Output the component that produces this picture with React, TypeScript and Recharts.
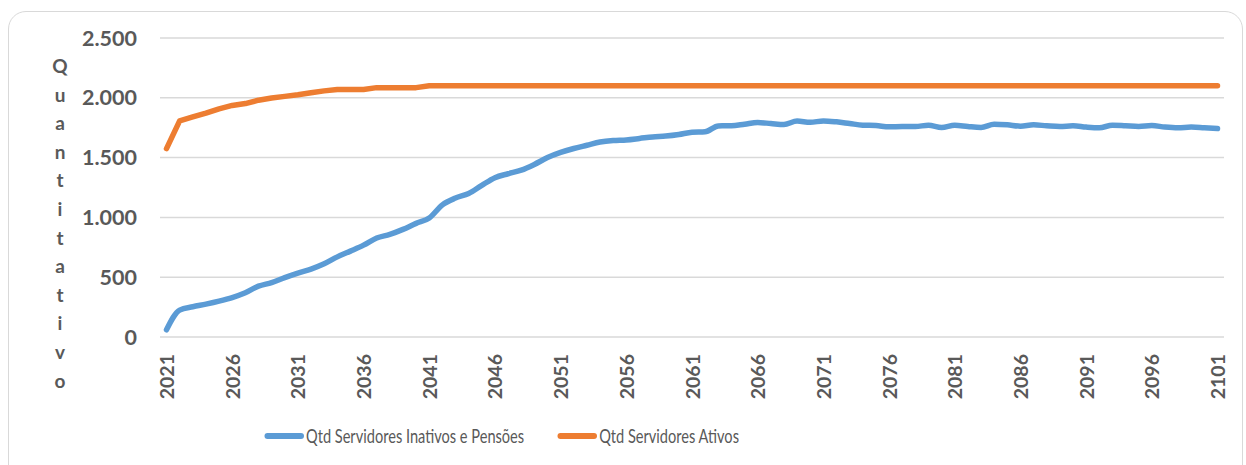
import { LineChart, Line, XAxis, YAxis, CartesianGrid, Legend } from 'recharts'

const years = Array.from({ length: 81 }, (_, i) => String(2021 + i))

const inativos = [
  60, 225, 253, 275, 300, 330, 370, 425, 455, 497,
  535, 568, 612, 670, 718, 768, 828, 858, 900, 950,
  995, 1105, 1162, 1200, 1268, 1332, 1365, 1395, 1443, 1500,
  1543, 1576, 1603, 1630, 1643, 1648, 1660, 1673, 1680, 1693,
  1712, 1716, 1765, 1766, 1779, 1793, 1785, 1777, 1805, 1795,
  1807, 1799, 1785, 1771, 1768, 1757, 1760, 1760, 1771, 1752,
  1771, 1760, 1752, 1779, 1774, 1763, 1774, 1766, 1760, 1766,
  1755, 1749, 1771, 1766, 1760, 1768, 1755, 1749, 1755, 1749,
  1743,
]

const ativos = [
  1575, 1807, 1840, 1872, 1908, 1936, 1952, 1980, 1998, 2012,
  2025, 2042, 2058, 2070, 2070, 2070, 2085, 2085, 2085, 2085,
  2100, 2100, 2100, 2100, 2100, 2100, 2100, 2100, 2100, 2100,
  2100, 2100, 2100, 2100, 2100, 2100, 2100, 2100, 2100, 2100,
  2100, 2100, 2100, 2100, 2100, 2100, 2100, 2100, 2100, 2100,
  2100, 2100, 2100, 2100, 2100, 2100, 2100, 2100, 2100, 2100,
  2100, 2100, 2100, 2100, 2100, 2100, 2100, 2100, 2100, 2100,
  2100, 2100, 2100, 2100, 2100, 2100, 2100, 2100, 2100, 2100,
  2100,
]

const yTicks = [0, 500, 1000, 1500, 2000, 2500]
const yTitle = 'Quantitativo'
const seriesOrder = ['Qtd Servidores Inativos e Pensões', 'Qtd Servidores Ativos']

const data = years.map((year, i) => ({ year, inativos: inativos[i], ativos: ativos[i] }))

const textColor = '#595959'
const font = 'Lato, "Open Sans", sans-serif'

const fmt = (v: number) => v.toLocaleString('pt-BR')

function YearTick({ x, y, payload }: any) {
  return (
    <text
      x={x}
      y={y}
      transform={`rotate(-90 ${x} ${y})`}
      textAnchor="end"
      dominantBaseline="central"
      fontFamily={font}
      fontWeight={700}
      fontSize={19.5}
      fill={textColor}
    >
      {payload.value}
    </text>
  )
}

function YTitle() {
  return (
    <text fontFamily={font} fontWeight={700} fontSize={19} fill={textColor} textAnchor="middle">
      {yTitle.split('').map((c, i) => (
        <tspan key={i} x={60} y={73 + i * 28.6}>
          {c}
        </tspan>
      ))}
    </text>
  )
}

function LegendContent({ payload }: any) {
  const items = [...(payload || [])].sort(
    (a: any, b: any) => seriesOrder.indexOf(a.value) - seriesOrder.indexOf(b.value)
  )
  return (
    <div style={{ display: 'flex', alignItems: 'center', fontFamily: font, fontSize: 14.6, color: textColor }}>
      {items.map((p: any, i: number) => (
        <div key={i} style={{ display: 'flex', alignItems: 'center', marginRight: i === 0 ? 33 : 0 }}>
          <svg width={40} height={8} style={{ marginRight: 2 }}>
            <line x1={3.5} y1={4} x2={37} y2={4} stroke={p.color} strokeWidth={6} strokeLinecap="round" />
          </svg>
          <span style={{ display: 'inline-block', transform: 'scaleY(1.35)' }}>{p.value}</span>
        </div>
      ))}
    </div>
  )
}

export default function App() {
  return (
    <div style={{ position: 'fixed', left: 0, top: 0, width: 1246, height: 465, overflow: 'hidden', background: '#fff' }}>
      <div
        style={{
          position: 'absolute',
          left: 8,
          top: 11,
          width: 1235,
          height: 480,
          border: '1.5px solid #d9d9d9',
          borderRadius: 18,
          boxSizing: 'border-box',
        }}
      />
      <div style={{ position: 'absolute', left: 0, top: 0 }}>
        <LineChart width={1246} height={465} data={data} margin={{ top: 38, right: 22, left: 0, bottom: 28 }}>
          <CartesianGrid vertical={false} stroke="#d9d9d9" strokeWidth={1.5} />
          <XAxis
            dataKey="year"
            interval={4}
            height={100}
            axisLine={false}
            tickLine={false}
            tickMargin={11}
            padding={{ left: 6.5, right: 6.5 }}
            tick={<YearTick />}
          />
          <YAxis
            width={160}
            domain={[0, 2500]}
            ticks={yTicks}
            axisLine={false}
            tickLine={false}
            tickMargin={17}
            tickFormatter={fmt}
            tick={{ fontSize: 21.5, fontWeight: 700, fill: textColor, fontFamily: font }}
            label={{ content: () => <YTitle /> }}
          />
          <Legend
            layout="horizontal"
            verticalAlign="middle"
            align="center"
            content={<LegendContent />}
            wrapperStyle={{ left: 264, top: 427, width: 600 }}
          />
          <Line
            type="monotone"
            dataKey="inativos"
            name="Qtd Servidores Inativos e Pensões"
            stroke="#5B9BD5"
            strokeWidth={5.5}
            strokeLinecap="round"
            strokeLinejoin="round"
            dot={false}
            isAnimationActive={false}
          />
          <Line
            type="linear"
            dataKey="ativos"
            name="Qtd Servidores Ativos"
            stroke="#ED7D31"
            strokeWidth={5.5}
            strokeLinecap="round"
            strokeLinejoin="round"
            dot={false}
            isAnimationActive={false}
          />
        </LineChart>
      </div>
    </div>
  )
}
